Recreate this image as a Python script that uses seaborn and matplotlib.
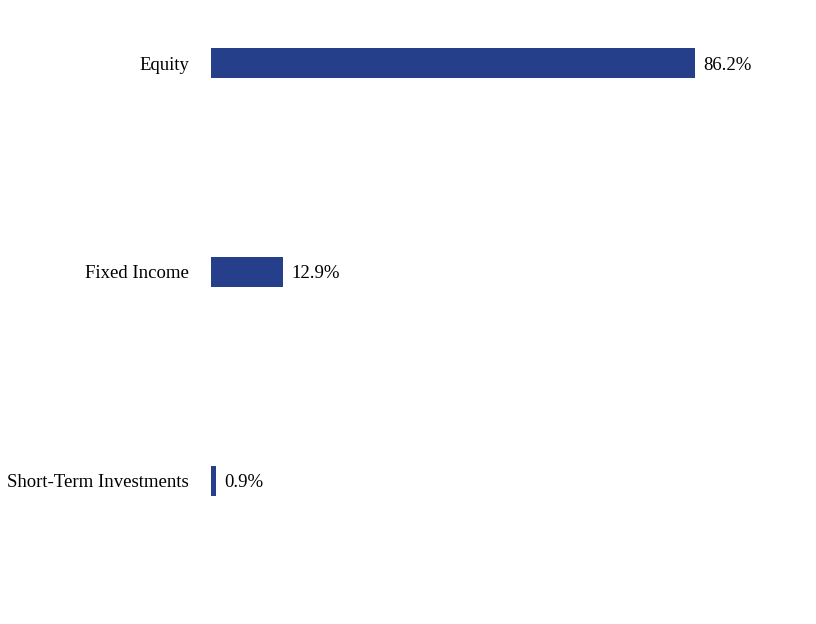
import matplotlib
matplotlib.use("Agg")
import matplotlib.pyplot as plt
import seaborn as sns
import pandas as pd

categories = ["Equity", "Fixed Income", "Short-Term Investments"]
values = [86.2, 12.9, 0.9]
labels = ["86.2%", "12.9%", "0.9%"]

sns.set_theme(style="white")
plt.rcParams['font.family'] = ['Liberation Serif', 'DejaVu Serif']

df = pd.DataFrame({"cat": categories, "val": values})

fig = plt.figure(figsize=(8.16, 6.24), dpi=100)
ax = fig.add_axes([211/816, 0, 561.5/816, 1])
sns.barplot(data=df, x="val", y="cat", orient="h", color="#263F8A",
            saturation=1, width=30/209, linewidth=0, ax=ax)
ax.set_xlim(0, 100)
ax.set_ylim(2 + (624-481)/209, -63/209)
for i, (v, t) in enumerate(zip(values, labels)):
    ax.text(v + 8/5.615, i, t, va="center_baseline", ha="left", fontsize=13.5, color="black")
ax.set_xlabel("")
ax.set_ylabel("")
ax.set_xticks([])
ax.tick_params(axis="y", length=0, pad=15.8, labelsize=13.5, labelcolor="black")
for lab in ax.get_yticklabels():
    lab.set_verticalalignment("center_baseline")
for s in ax.spines.values():
    s.set_visible(False)
fig.savefig("out.png", dpi=100)
